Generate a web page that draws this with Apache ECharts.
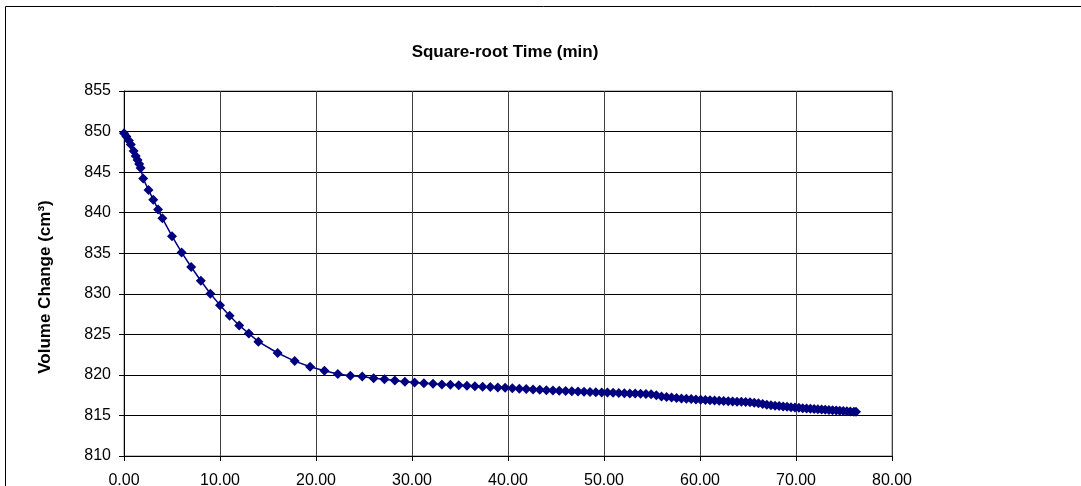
<!DOCTYPE html>
<html>
<head>
<meta charset="utf-8">
<script src="https://cdn.jsdelivr.net/npm/echarts@6/dist/echarts.min.js"></script>
<style>
html,body{margin:0;padding:0;background:#fff;}
#chart{width:1081px;height:486px;}
</style>
</head>
<body>
<div id="chart"></div>
<script>
const chartTitle = "Square-root Time (min)";
const yAxisName = "Volume Change (cm³)";
const xTicks = [0, 10, 20, 30, 40, 50, 60, 70, 80];
const yTicks = [810, 815, 820, 825, 830, 835, 840, 845, 850, 855];

const sqrtTime = [
  0, 0.25, 0.5, 0.71, 1.0, 1.22, 1.41, 1.58, 1.73, 2.0,
  2.55, 3.05, 3.55, 4.0, 5.0, 6.0, 7.0, 8.0, 9.0, 10.0,
  11.0, 12.0, 13.0, 14.0, 16.0, 17.78, 19.39, 20.88, 22.27, 23.58,
  24.82, 26.0, 27.13, 28.21, 29.26, 30.27, 31.24, 32.19, 33.11, 34.0,
  34.87, 35.72, 36.55, 37.36, 38.16, 38.94, 39.7, 40.45, 41.18, 41.9,
  42.61, 43.31, 44.0, 44.68, 45.34, 46.0, 46.65, 47.29, 47.92, 48.54,
  49.15, 49.76, 50.36, 50.95, 51.54, 52.12, 52.69, 53.25, 53.81, 54.37,
  54.91, 55.45, 55.99, 56.52, 57.04, 57.56, 58.07, 58.58, 59.08, 59.58,
  60.07, 60.56, 61.04, 61.52, 62.0, 62.47, 62.94, 63.4, 63.86, 64.31,
  64.76, 65.21, 65.65, 66.09, 66.53, 66.96, 67.39, 67.82, 68.24, 68.66,
  69.07, 69.48, 69.89, 70.3, 70.7, 71.1, 71.5, 71.89, 72.28, 72.67,
  73.05, 73.43, 73.81, 74.19, 74.56, 74.93, 75.3, 75.66, 76.03, 76.25
];
const volume = [
  849.8, 849.4, 848.9, 848.4, 847.6, 847.0, 846.5, 846.0, 845.5, 844.2,
  842.8, 841.6, 840.4, 839.3, 837.1, 835.1, 833.3, 831.6, 830.0, 828.6,
  827.3, 826.1, 825.1, 824.1, 822.7, 821.7, 821.0, 820.5, 820.1, 819.9,
  819.8, 819.6, 819.45, 819.3, 819.15, 819.05, 818.98, 818.9, 818.83, 818.77,
  818.71, 818.65, 818.6, 818.55, 818.5, 818.45, 818.4, 818.35, 818.3, 818.25,
  818.2, 818.16, 818.12, 818.08, 818.05, 818.02, 817.99, 817.96, 817.93, 817.9,
  817.87, 817.84, 817.82, 817.8, 817.78, 817.75, 817.72, 817.7, 817.67, 817.64,
  817.6, 817.5, 817.35, 817.27, 817.2, 817.15, 817.1, 817.06, 817.02, 816.98,
  816.94, 816.9, 816.87, 816.84, 816.81, 816.78, 816.75, 816.72, 816.7, 816.68,
  816.66, 816.63, 816.58, 816.5, 816.4, 816.32, 816.25, 816.2, 816.15, 816.1,
  816.06, 816.02, 815.98, 815.94, 815.9, 815.86, 815.83, 815.8, 815.77, 815.74,
  815.71, 815.68, 815.65, 815.62, 815.59, 815.56, 815.53, 815.5, 815.47, 815.45
];

const chart = echarts.init(document.getElementById('chart'), null, {renderer: 'canvas'});
const seriesData = sqrtTime.map((x, i) => [x, volume[i]]);
const font = 'Liberation Sans, Arial, sans-serif';

chart.setOption({
  animation: false,
  backgroundColor: '#fff',
  graphic: [{
    type: 'rect',
    shape: {x: 5.5, y: 6.5, width: 1200, height: 600},
    style: {fill: 'none', stroke: '#000', lineWidth: 1},
    z: -10
  }, {
    type: 'text',
    x: 45, y: 287, rotation: Math.PI / 2,
    style: {text: yAxisName, fontFamily: font, fontSize: 17, fontWeight: 'bold', fill: '#000', align: 'center', verticalAlign: 'middle'},
    z: 10
  }],
  title: {
    text: chartTitle,
    left: 500, top: 39, textAlign: 'center',
    textStyle: {fontFamily: font, fontSize: 17, fontWeight: 'bold', color: '#000'}
  },
  grid: {left: 124, top: 91, width: 768, height: 365, outerBoundsMode: 'none', containLabel: false, show: true, borderColor: '#808080', borderWidth: 1, backgroundColor: '#fff'},
  xAxis: {
    type: 'value', min: xTicks[0], max: xTicks[xTicks.length - 1], interval: 10,
    axisLine: {show: true, onZero: false, lineStyle: {color: '#000', width: 1}},
    axisTick: {show: true, inside: false, length: 5, lineStyle: {color: '#000'}},
    axisLabel: {fontFamily: font, fontSize: 16, color: '#000', margin: 17, formatter: v => v.toFixed(2)},
    splitLine: {show: true, lineStyle: {color: '#404040', width: 1}}
  },
  yAxis: {
    type: 'value', min: yTicks[0], max: yTicks[yTicks.length - 1], interval: 5,
    axisLine: {show: true, lineStyle: {color: '#000', width: 1}},
    axisTick: {show: true, inside: false, length: 5, lineStyle: {color: '#000'}},
    axisLabel: {fontFamily: font, fontSize: 16, color: '#000', margin: 13},
    splitLine: {show: true, lineStyle: {color: '#000', width: 1}}
  },
  series: [{
    type: 'line',
    data: seriesData,
    symbol: 'diamond',
    symbolSize: 10,
    showAllSymbol: true,
    lineStyle: {color: '#000080', width: 1.5},
    itemStyle: {color: '#000080', borderWidth: 0}
  }]
});
</script>
</body>
</html>
